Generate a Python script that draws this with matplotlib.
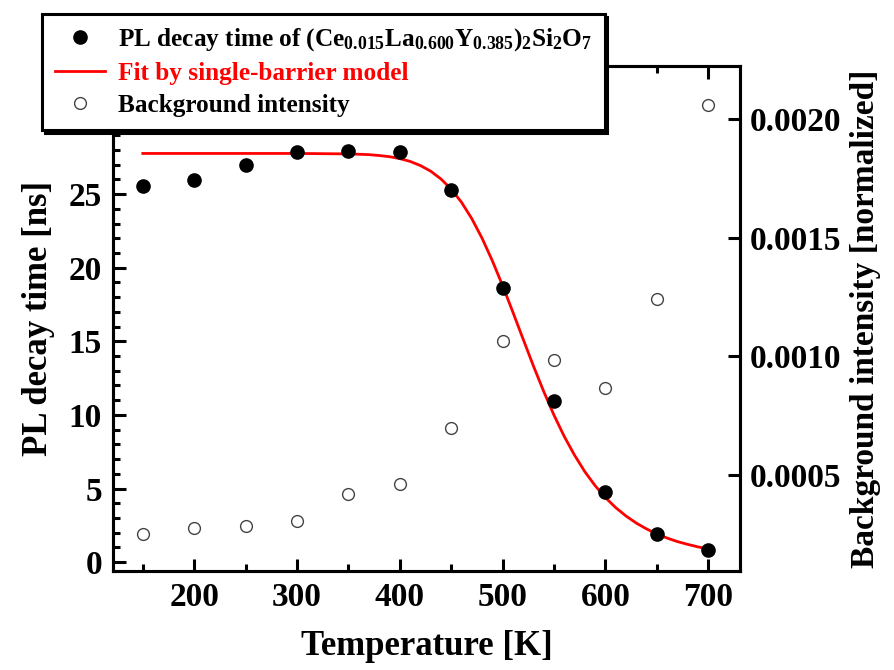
import matplotlib
matplotlib.use('Agg')
import matplotlib.pyplot as plt
from matplotlib.ticker import MultipleLocator

# measured PL decay time [ns]
temp = [150, 200, 250, 300, 350, 400, 450, 500, 550, 600, 650, 700]
decay = [25.54, 25.95, 26.96, 27.85, 27.96, 27.85, 25.3, 18.65, 10.93, 4.76, 1.88, 0.86]

# background intensity [normalized]
bg = [0.000251, 0.000277, 0.000286, 0.000308, 0.000419, 0.000464,
      0.000700, 0.001067, 0.000987, 0.000867, 0.00124, 0.002059]

# single-barrier fit
fit_t = [150, 200, 250, 300, 350, 370, 380, 390, 400, 410, 420, 430, 440,
         450, 460, 470, 480, 490, 500, 510, 520, 530, 540, 550, 560, 570,
         580, 590, 600, 610, 620, 630, 640, 650, 660, 670, 680, 690, 700]
fit_tau = [27.76, 27.76, 27.76, 27.76, 27.73, 27.68, 27.62, 27.54, 27.41,
           27.22, 26.94, 26.56, 26.03, 25.34, 24.45, 23.34, 22.01, 20.48,
           18.79, 16.99, 15.15, 13.33, 11.60, 9.99, 8.54, 7.27, 6.15, 5.20,
           4.39, 3.71, 3.14, 2.66, 2.26, 1.92, 1.64, 1.40, 1.21, 1.04, 0.90]

plt.rcParams['font.family'] = 'Liberation Serif'
plt.rcParams['font.weight'] = 'bold'
plt.rcParams['axes.labelweight'] = 'bold'
plt.rcParams['mathtext.fontset'] = 'custom'
plt.rcParams['mathtext.rm'] = 'Liberation Serif:bold'
plt.rcParams['mathtext.bf'] = 'Liberation Serif:bold'
plt.rcParams['mathtext.it'] = 'Liberation Serif:bold'
plt.rcParams['mathtext.default'] = 'rm'

fig = plt.figure(figsize=(8.95, 6.7), dpi=100)
ax = fig.add_axes([113 / 895, 1 - 571 / 670, (740 - 113) / 895, (571 - 66) / 670])
ax2 = ax.twinx()

p1, = ax.plot(temp, decay, 'o', color='black', markersize=9.5, zorder=4)
p2, = ax.plot(fit_t, fit_tau, '-', color='red', linewidth=2, zorder=3)
p3, = ax2.plot(temp, bg, 'o', markerfacecolor='none', markeredgecolor='#444444',
               markeredgewidth=1.0, markersize=8.5)

ax.set_xlim(121, 731)
ax.set_ylim(-0.6, 33.7)
ax2.set_ylim(0.0000966, 0.002223)

ax.xaxis.set_major_locator(MultipleLocator(100))
ax.xaxis.set_minor_locator(MultipleLocator(50))
ax.yaxis.set_major_locator(MultipleLocator(5))
ax.yaxis.set_minor_locator(MultipleLocator(1))
ax2.yaxis.set_major_locator(MultipleLocator(0.0005))
ax2.yaxis.set_major_formatter(matplotlib.ticker.FormatStrFormatter('%.4f'))

ax.tick_params(axis='x', which='both', direction='in', top=True, width=2.2,
               labelsize=24, pad=8)
ax.tick_params(axis='x', which='major', length=9)
ax.tick_params(axis='x', which='minor', length=5)
ax.tick_params(axis='y', which='both', direction='in', right=False, width=2.2,
               labelsize=24, pad=8)
ax.tick_params(axis='y', which='major', length=9)
ax.tick_params(axis='y', which='minor', length=5)
ax2.tick_params(axis='y', which='major', direction='in', width=2.2, length=9,
                labelsize=24, pad=7)

for a in (ax, ax2):
    for s in a.spines.values():
        s.set_linewidth(2.2)

ax.set_xlabel('Temperature [K]', fontsize=25, labelpad=12)
ax.set_ylabel('PL decay time [ns]', fontsize=25, labelpad=10)
ax2.set_ylabel('Background intensity [normalized]', fontsize=24, labelpad=6)

labels = ['PL decay time of (Ce$_{0.015}$La$_{0.600}$Y$_{0.385}$)$_2$Si$_2$O$_7$',
          'Fit by single-barrier model',
          'Background intensity']
leg = ax2.legend([p1, p2, p3], labels, loc='upper left',
                 bbox_to_anchor=(42 / 895, 1 - 14 / 670),
                 bbox_transform=fig.transFigure, fontsize=18.2,
                 frameon=True, fancybox=False, framealpha=1,
                 edgecolor='black', borderpad=0.5, labelspacing=0.35,
                 handlelength=2.0, handletextpad=0.5, borderaxespad=0,
                 shadow={'color': 'black', 'alpha': 1})
leg.get_frame().set_linewidth(2.2)
leg.get_texts()[1].set_color('red')
leg.set_zorder(10)

fig.savefig('out.png', dpi=100)
